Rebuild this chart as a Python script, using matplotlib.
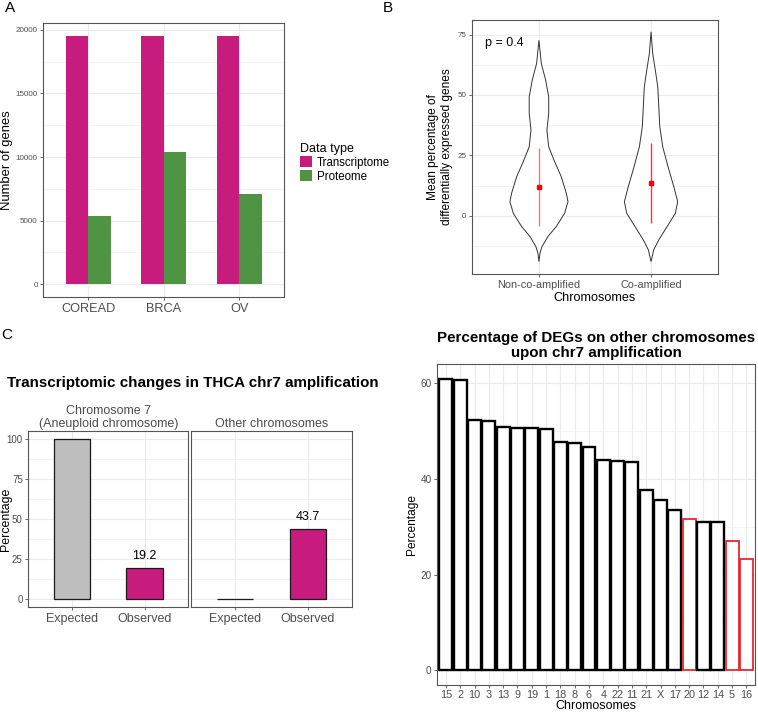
import matplotlib
matplotlib.use("Agg")
import matplotlib.pyplot as plt
from matplotlib.ticker import FixedLocator
import numpy as np

plt.rcParams['font.family'] = ['Liberation Sans', 'DejaVu Sans']

# ---------------- data ----------------
# Panel A
cancer_types = ["COREAD", "BRCA", "OV"]
transcriptome_genes = [19480, 19530, 19500]
proteome_genes = [5330, 10430, 7060]

# Panel B (violin outlines: y level, half width in category units)
violin_groups = ["Non-co-amplified", "Co-amplified"]
noncoamp_y = [72.6, 63.0, 56.1, 49.2, 42.4, 35.5, 28.6, 23.1, 16.2, 9.4, 5.9, 1.1, -4.4, -8.5, -12.7, -15.4, -18.9]
noncoamp_hw = [0.0, 0.021, 0.060, 0.087, 0.087, 0.071, 0.087, 0.134, 0.199, 0.244, 0.259, 0.229, 0.154, 0.080, 0.027, 0.009, 0.0]
coamp_y = [76.1, 67.1, 60.3, 53.4, 45.1, 36.9, 28.6, 20.3, 12.1, 5.9, 1.1, -4.4, -9.9, -14.0, -18.9]
coamp_hw = [0.0, 0.015, 0.038, 0.060, 0.069, 0.078, 0.104, 0.152, 0.203, 0.238, 0.217, 0.143, 0.069, 0.024, 0.0]
violin_mean = [12.1, 13.5]
violin_low = [-4.1, -3.0]
violin_high = [28.2, 30.0]
p_text = "p = 0.4"

# Panel C left
facet_names = ["Chromosome 7\n(Aneuploid chromosome)", "Other chromosomes"]
conditions = ["Expected", "Observed"]
chr7_pct = [100.0, 19.2]
other_pct = [0.0, 43.7]

# Panel C right
chromosomes = ["15", "2", "10", "3", "13", "9", "19", "1", "18", "8", "6", "4",
               "22", "11", "21", "X", "17", "20", "12", "14", "5", "16"]
deg_pct = [60.8, 60.6, 52.3, 52.1, 50.7, 50.5, 50.5, 50.3, 47.6, 47.4, 46.6, 43.8,
           43.7, 43.4, 37.6, 35.5, 33.5, 31.5, 31.0, 31.0, 26.9, 23.2]
highlight = ["20", "5", "16"]

# ---------------- styles ----------------
W, H = 758, 712
MAG = "#C71B7E"
GRN = "#4F9442"
GRID = "#EBEBEB"
TICKC = "#4D4D4D"

fig = plt.figure(figsize=(W / 100, H / 100), dpi=100)


def add_ax(left, top, right, bottom):
    return fig.add_axes([left / W, 1 - bottom / H, (right - left) / W, (bottom - top) / H])


def style_ax(ax, ytick_size=5.8, xtick_size=9):
    for s in ax.spines.values():
        s.set_color("#555555")
        s.set_linewidth(0.8)
    ax.tick_params(axis='both', colors=TICKC, length=2.5, width=0.6)
    ax.tick_params(axis='y', labelsize=ytick_size, pad=1.5)
    ax.tick_params(axis='x', labelsize=xtick_size, pad=2)
    ax.grid(True, which='major', color=GRID, linewidth=0.8)
    ax.grid(True, which='minor', color=GRID, linewidth=0.45)
    ax.set_axisbelow(True)
    ax.tick_params(which='minor', length=0)


# ---------------- Panel A ----------------
axA = add_ax(43.3, 23.3, 284.3, 296.7)
x = np.arange(1, len(cancer_types) + 1)
bw = 0.3
axA.bar(x - bw / 2, transcriptome_genes, width=bw, color=MAG, label="Transcriptome")
axA.bar(x + bw / 2, proteome_genes, width=bw, color=GRN, label="Proteome")
axA.set_xlim(0.4, 3.6)
axA.set_ylim(-976, 20506)
axA.set_xticks(x)
axA.set_xticklabels(cancer_types)
axA.yaxis.set_major_locator(FixedLocator([0, 5000, 10000, 15000, 20000]))
axA.yaxis.set_minor_locator(FixedLocator([2500, 7500, 12500, 17500]))
style_ax(axA, ytick_size=5.8, xtick_size=9.2)
axA.set_ylabel("Number of genes", fontsize=9.4, labelpad=2)
leg = axA.legend(title="Data type", loc='center left', bbox_to_anchor=(1.04, 0.49),
                 frameon=False, fontsize=8.3, title_fontsize=9, handlelength=1.1,
                 handleheight=1.1, handletextpad=0.4, labelspacing=0.12, borderpad=0)
leg._legend_box.align = "left"
fig.text(5 / W, 1 - 8 / H, "A", fontsize=11, va='center', ha='left')

# ---------------- Panel B ----------------
axB = add_ax(471.7, 20, 718.3, 274)
for i, (ys, hws) in enumerate([(noncoamp_y, noncoamp_hw), (coamp_y, coamp_hw)]):
    c = i + 1
    ys = np.array(ys)
    hws = np.array(hws)
    xs = np.concatenate([c - hws, (c + hws)[::-1]])
    yy = np.concatenate([ys, ys[::-1]])
    axB.fill(xs, yy, facecolor="white", edgecolor="#333333", linewidth=0.7)
    axB.plot([c, c], [violin_low[i], violin_high[i]], color="red",
             alpha=0.55 if i == 0 else 0.8, linewidth=1.0, solid_capstyle='butt')
    axB.plot([c], [violin_mean[i]], marker='s', color="red", markersize=2.8)
axB.set_xlim(0.4, 2.6)
axB.set_ylim(-24, 81)
axB.set_xticks([1, 2])
axB.set_xticklabels(violin_groups)
axB.yaxis.set_major_locator(FixedLocator([0, 25, 50, 75]))
axB.yaxis.set_minor_locator(FixedLocator([-12.5, 12.5, 37.5, 62.5]))
style_ax(axB, ytick_size=5.8, xtick_size=7.8)
axB.set_ylabel("Mean percentage of\ndifferentially expressed genes", fontsize=8.6, labelpad=3,
               linespacing=1.25)
axB.set_xlabel("Chromosomes", fontsize=9.1, labelpad=1)
axB.text(0.52, 71.5, p_text, fontsize=9, ha='left', va='center')
fig.text(383 / W, 1 - 8 / H, "B", fontsize=11, va='center', ha='left')

# ---------------- Panel C left ----------------
fig.text(193 / W, 1 - 383 / H, "Transcriptomic changes in THCA chr7 amplification",
         fontsize=10.9, fontweight='bold', ha='center', va='center')
fig.text(1 / W, 1 - 335 / H, "C", fontsize=11, va='center', ha='left')

for k, (name, vals, left, right) in enumerate([(facet_names[0], chr7_pct, 28.3, 188.3),
                                               (facet_names[1], other_pct, 191.0, 351.7)]):
    ax = add_ax(left, 431, right, 606.7)
    xc = np.arange(1, len(conditions) + 1)
    cols = ["#BEBEBE" if (c == "Expected") else MAG for c in conditions]
    ax.bar(xc, vals, width=0.5, color=cols, edgecolor="#1a1a1a", linewidth=0.9)
    for xi, v, c in zip(xc, vals, conditions):
        if c == "Observed":
            ax.text(xi, v + 4, f"{v}", ha='center', va='bottom', fontsize=9)
    ax.set_xlim(0.4, 2.6)
    ax.set_ylim(-5, 105)
    ax.set_xticks(xc)
    ax.set_xticklabels(conditions)
    ax.yaxis.set_major_locator(FixedLocator([0, 25, 50, 75, 100]))
    ax.yaxis.set_minor_locator(FixedLocator([12.5, 37.5, 62.5, 87.5]))
    style_ax(ax, ytick_size=7.0, xtick_size=9)
    ax.set_title(name, fontsize=9, color=TICKC, pad=3, linespacing=1.05)
    if k == 0:
        ax.set_ylabel("Percentage", fontsize=8.9)
        ax.yaxis.set_label_coords((12.0 - left) / (right - left), 0.5)
    else:
        ax.tick_params(axis='y', left=False, labelleft=False)

# ---------------- Panel C right ----------------
axR = add_ax(437.3, 364.3, 755, 685)
xr = np.arange(1, len(chromosomes) + 1)
edge = ["#E8282E" if c in highlight else "black" for c in chromosomes]
lws = [1.3 if c in highlight else 1.7 for c in chromosomes]
axR.bar(xr, deg_pct, width=0.9, color="white", edgecolor=edge, linewidth=lws)
axR.set_xlim(0.4, len(chromosomes) + 0.6)
axR.set_ylim(-3.04, 63.85)
axR.set_xticks(xr)
axR.set_xticklabels(chromosomes)
axR.yaxis.set_major_locator(FixedLocator([0, 20, 40, 60]))
axR.yaxis.set_minor_locator(FixedLocator([10, 30, 50]))
style_ax(axR, ytick_size=7.2, xtick_size=7.8)
axR.tick_params(axis='x', pad=1)
axR.set_ylabel("Percentage", fontsize=8.6, labelpad=2)
axR.set_xlabel("Chromosomes", fontsize=9, labelpad=0)
axR.set_title("Percentage of DEGs on other chromosomes\nupon chr7 amplification",
              fontsize=10.9, fontweight='bold', pad=5, linespacing=1.1)

fig.savefig("out.png", dpi=100)
